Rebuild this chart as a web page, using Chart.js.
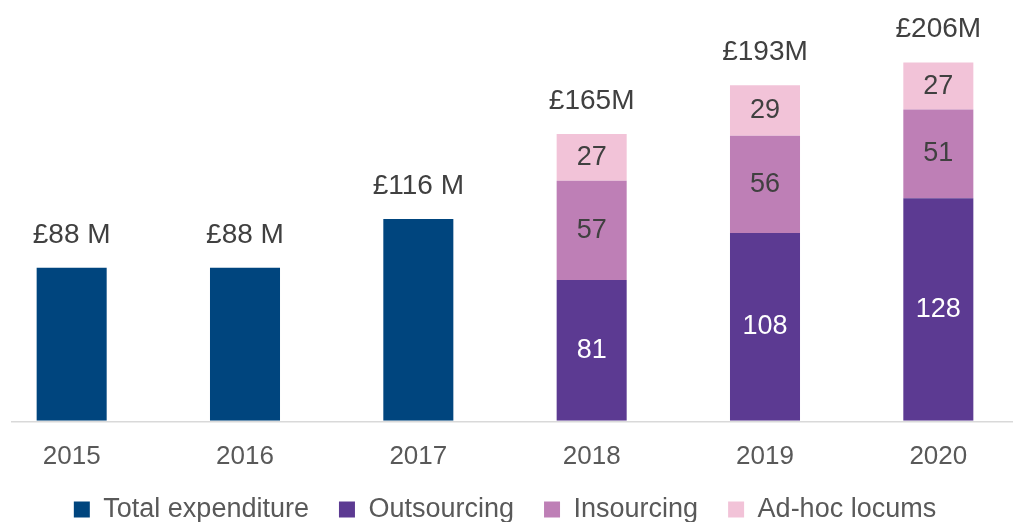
<!DOCTYPE html>
<html>
<head>
<meta charset="utf-8">
<script src="https://cdn.jsdelivr.net/npm/chart.js@4"></script>
<style>
  html, body { margin: 0; padding: 0; background: #fff; overflow: hidden; }
  #wrap { position: absolute; left: -15px; top: 0; width: 1040px; height: 533px; }
</style>
</head>
<body>
<div id="wrap"><canvas id="grafico"></canvas></div>
<script>
const anos = ["2015", "2016", "2017", "2018", "2019", "2020"];
const totalDespesa = [88, 88, 116, null, null, null];
const terceirizacao = [null, null, null, 81, 108, 128];
const internalizacao = [null, null, null, 57, 56, 51];
const locums = [null, null, null, 27, 29, 27];
const rotulosTotal = ["£88 M", "£88 M", "£116 M", "£165M", "£193M", "£206M"];
const alturaTotal = [88, 88, 116, 165, 193, 206];

const fonte = "'Liberation Sans', Arial, sans-serif";

// rotulos dentro das barras e o total em cima
const rotulosPlugin = {
  id: "rotulos",
  afterDatasetsDraw(chart) {
    const ctx = chart.ctx;
    const y = chart.scales.y;
    ctx.save();
    ctx.textAlign = "center";
    ctx.textBaseline = "middle";
    chart.data.datasets.forEach((ds, i) => {
      if (i === 0) return;
      const meta = chart.getDatasetMeta(i);
      meta.data.forEach((bar, j) => {
        if (ds.data[j] == null) return;
        ctx.font = "27px " + fonte;
        ctx.fillStyle = i === 1 ? "#ffffff" : "#404040";
        ctx.fillText(String(ds.data[j]), bar.x, (bar.y + bar.base) / 2);
      });
    });
    const xs = chart.scales.x;
    ctx.font = "28px " + fonte;
    ctx.fillStyle = "#404040";
    rotulosTotal.forEach((txt, j) => {
      ctx.fillText(txt, xs.getPixelForValue(j), y.getPixelForValue(alturaTotal[j]) - 33);
    });
    // linha do eixo
    const y0 = y.getPixelForValue(0) + 1;
    ctx.strokeStyle = "#d9d9d9";
    ctx.lineWidth = 1.5;
    ctx.beginPath();
    ctx.moveTo(26, y0);
    ctx.lineTo(chart.chartArea.right, y0);
    ctx.stroke();
    ctx.restore();
  }
};

new Chart(document.getElementById("grafico"), {
  type: "bar",
  data: {
    labels: anos,
    datasets: [
      { label: "Total expenditure", data: totalDespesa, backgroundColor: "#00457e" },
      { label: "Outsourcing", data: terceirizacao, backgroundColor: "#5c3a92" },
      { label: "Insourcing", data: internalizacao, backgroundColor: "#be7fb6" },
      { label: "Ad-hoc locums", data: locums, backgroundColor: "#f2c3d8" }
    ]
  },
  options: {
    responsive: true,
    maintainAspectRatio: false,
    animation: false,
    layout: { padding: 0 },
    datasets: { bar: { categoryPercentage: 1, barPercentage: 0.404 } },
    scales: {
      x: {
        stacked: true,
        grid: { display: false, drawTicks: false },
        border: { display: false },
        ticks: { color: "#595959", font: { family: fonte, size: 26 }, padding: 20 },
        afterFit(scale) { scale.height -= 26; }
      },
      y: {
        stacked: true,
        display: false,
        min: 0,
        max: 242
      }
    },
    plugins: {
      legend: {
        position: "bottom",
        labels: {
          color: "#595959",
          font: { family: fonte, size: 27 },
          boxWidth: 16,
          boxHeight: 16,
          padding: 30
        }
      },
      tooltip: { enabled: false }
    }
  },
  plugins: [rotulosPlugin]
});
</script>
</body>
</html>
